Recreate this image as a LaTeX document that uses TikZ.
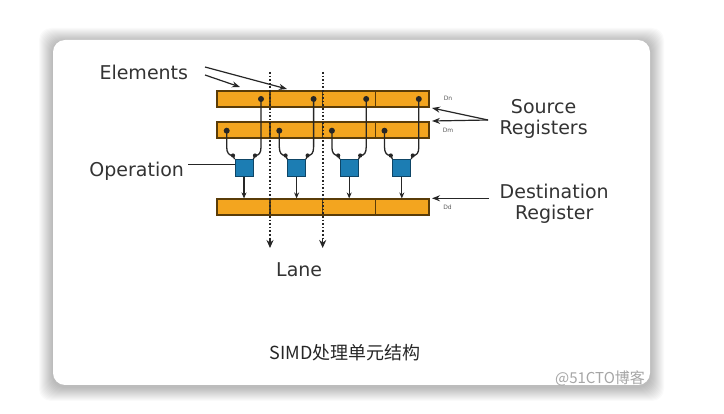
\documentclass[tikz,border=0pt]{standalone}
\usepackage{fontspec}
\setmainfont{DejaVu Sans}
\newfontfamily\cjk{Noto Sans CJK SC}
\usetikzlibrary{arrows.meta}
\definecolor{regfill}{HTML}{F3A51F}
\definecolor{regdraw}{HTML}{5A3C08}
\definecolor{alufill}{HTML}{1C7DB3}
\definecolor{aludraw}{HTML}{0E4566}
\definecolor{ink}{HTML}{262626}
\definecolor{txt}{HTML}{333333}
\tikzset{
  reg/.style={rectangle, draw=regdraw, line width=1.1pt, fill=regfill, minimum width=212pt, minimum height=16pt, inner sep=0pt},
  alu/.style={rectangle, draw=aludraw, line width=0.8pt, fill=alufill, minimum width=18pt, minimum height=17pt, inner sep=0pt},
  lbl/.style={text=txt, font=\fontsize{19}{22}\selectfont, inner sep=0pt, anchor=base},
  tiny/.style={text=txt!80, font=\fontsize{6}{7}\selectfont, inner sep=0pt},
  wire/.style={draw=ink, line width=1.3pt},
  pin/.style={fill=ink},
  lane/.style={draw=ink, line width=1.8pt, dash pattern=on 1.6pt off 2pt},
  lanetip/.style={-{Stealth[length=8pt,width=7pt]}},
  ptr/.style={draw=ink, line width=1.2pt, -{Stealth[length=8pt,width=6pt]}},
  outarrow/.style={wire, -{Stealth[length=6pt,width=5pt]}}
}
\begin{document}
\begin{tikzpicture}[x=1pt,y=-1pt]
\useasboundingbox (0,0) rectangle (724,414);
\fill[white] (0,0) rectangle (724,414);
% soft shadow of the card
\foreach \i in {1,...,14} {
  \fill[black, opacity=0.018, rounded corners=12pt] (53-\i,40-\i+2) rectangle (650+\i,385+\i+2);
}
\fill[white, rounded corners=12pt] (53,40) rectangle (650,385);

% registers
\node[reg] (rn) at (323,99) {};
\node[reg] (rm) at (323,130) {};
\node[reg] (rd) at (323,207) {};
\foreach \r in {rn,rm,rd} {
  \foreach \xx in {270,322.7,375.5} {
    \draw[regdraw, line width=1.1pt] (\xx,0 |- \r.north) -- (\xx,0 |- \r.south);
  }
}

% lanes
\foreach \k/\d in {0/0,1/52.6,2/105.2,3/157.8} {
  \node[alu] (b\k) at (244+\d,168) {};
  \coordinate (tn\k) at (261+\d,99);
  \coordinate (tm\k) at (226.7+\d,130.7);
  \coordinate (jl\k) at (233+\d,155.5);
  \coordinate (jr\k) at (255+\d,155.5);
  \draw[wire] (tm\k) -- (226.7+\d,147) .. controls (226.7+\d,153) and (229+\d,155.5) .. (jl\k) -- (b\k.north west);
  \draw[wire] (tn\k) -- (261+\d,147) .. controls (261+\d,153) and (259+\d,155.5) .. (jr\k) -- (b\k.north east);
  \fill[pin] (tn\k) circle (3pt);
  \fill[pin] (tm\k) circle (3pt);
  \fill[pin] (jl\k) circle (2.1pt);
  \fill[pin] (jr\k) circle (2.1pt);
  \draw[outarrow] (b\k.south) -- (b\k.south |- rd.north);
}

% lane dotted arrows
\coordinate (la1) at (270,72);
\coordinate (lb1) at (270,248);
\coordinate (la2) at (322.7,72);
\coordinate (lb2) at (322.7,248);
\draw[lane] (la1) -- (270,240);
\draw[lane] (la2) -- (322.7,240);
\draw[draw=ink, line width=1.4pt, lanetip] (270,239) -- (lb1);
\draw[draw=ink, line width=1.4pt, lanetip] (322.7,239) -- (lb2);

% labels
\node[lbl] (elem) at (143.8,80) {Elements};
\node[lbl] (oper) at (136.7,176.5) {Operation};
\node[lbl] (src1) at (543.6,113.3) {Source};
\node[lbl] (src2) at (543.6,135) {Registers};
\node[lbl] (dst1) at (554.2,198.3) {Destination};
\node[lbl] (dst2) at (554.2,220) {Register};
\node[lbl] (lanelbl) at (299.2,276.7) {Lane};

\node[tiny] (dn) at (448,98.5) {Dn};
\node[tiny] (dm) at (448,130) {Dm};
\node[tiny] (dd) at (447.5,207) {Dd};

% pointers
\coordinate (e1) at (205,67);
\coordinate (e2) at (205,75);
\coordinate (e1t) at (287,89);
\coordinate (e2t) at (240,87);
\draw[ptr] (e1) -- (e1t);
\draw[ptr] (e2) -- (e2t);

\coordinate (s0) at (488,120);
\draw[ptr] (s0) -- (432,108);
\draw[ptr] (s0) -- (432,121);

\coordinate (d0) at (489,198.3);
\draw[ptr] (d0) -- (432,198.3);

\coordinate (op0) at (188,164.5);
\draw[draw=ink, line width=1.2pt] (op0) -- (op0 -| b0.west);

% caption
\node[inner sep=0pt, anchor=base, text=black!85, font=\cjk\fontsize{18}{20}\selectfont] (cap) at (345,360) {SIMD处理单元结构};
\begin{scope}
\clip (0,0) rectangle (649,414);
\node[inner sep=0pt, text=black!35, font=\cjk\fontsize{15}{17}\selectfont] (wm) at (600,378) {@51CTO博客};
\end{scope}
\end{tikzpicture}
\end{document}
